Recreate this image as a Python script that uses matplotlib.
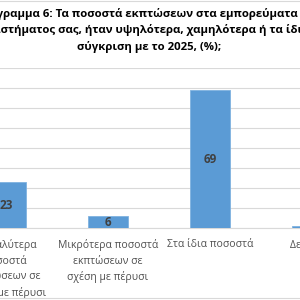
import matplotlib
matplotlib.use("Agg")
import matplotlib.pyplot as plt
from matplotlib.lines import Line2D

plt.rcParams['font.family'] = ['Open Sans', 'DejaVu Sans']

categories = [
    "Μεγαλύτερα\nποσοστά\nεκπτώσεων σε\nσχέση με πέρυσι",
    "Μικρότερα ποσοστά\nεκπτώσεων σε\nσχέση με πέρυσι",
    "Στα ίδια ποσοστά",
    "Δεν ξέρω",
]
values = [23, 6, 69, 1]
title = ("Διάγραμμα 6: Τα ποσοστά εκπτώσεων στα εμπορεύματα του\n"
         "καταστήματος σας, ήταν υψηλότερα, χαμηλότερα ή τα ίδια σε\n"
         "σύγκριση με το 2025, (%);")

fig = plt.figure(figsize=(3, 3), dpi=100)
ax = fig.add_axes([-0.15, 0.24, 1.36, 0.5333])
x = list(range(len(categories)))
bars = ax.bar(x, values, width=0.39, color="#5B9BD5", edgecolor="#7FB2E0", linewidth=0.6, zorder=3)
ax.set_xlim(-0.5, len(categories) - 0.5)
ax.set_ylim(0, 80)
ax.set_yticks(range(0, 81, 10))
ax.yaxis.grid(True, color="#D9D9D9", linewidth=0.8, zorder=0)
ax.tick_params(axis='y', left=False, labelleft=False)
ax.set_xticks(x)
ax.set_xticklabels(categories, fontsize=7.5, color="#505050", linespacing=1.55)
ax.tick_params(axis='x', length=0, pad=8)
for s in ['top', 'left', 'right']:
    ax.spines[s].set_visible(False)
ax.spines['bottom'].set_color("#D9D9D9")
ax.spines['bottom'].set_linewidth(0.8)

for b, v in zip(bars, values):
    ax.text(b.get_x() + b.get_width() / 2, v / 2, str(v), ha='center', va='center',
            fontsize=8.5, fontweight='bold', color="#404040", zorder=4)

fig.text(0.497, 0.823, title, ha='center', va='bottom', fontsize=8.2, fontweight='bold',
         color="#000000", linespacing=1.52)

fig.add_artist(Line2D([0, 1], [0.997, 0.997], color="#D9D9D9", linewidth=0.8))
fig.add_artist(Line2D([0, 1], [0.006, 0.006], color="#D9D9D9", linewidth=0.8))

fig.savefig("out.png", dpi=100)
